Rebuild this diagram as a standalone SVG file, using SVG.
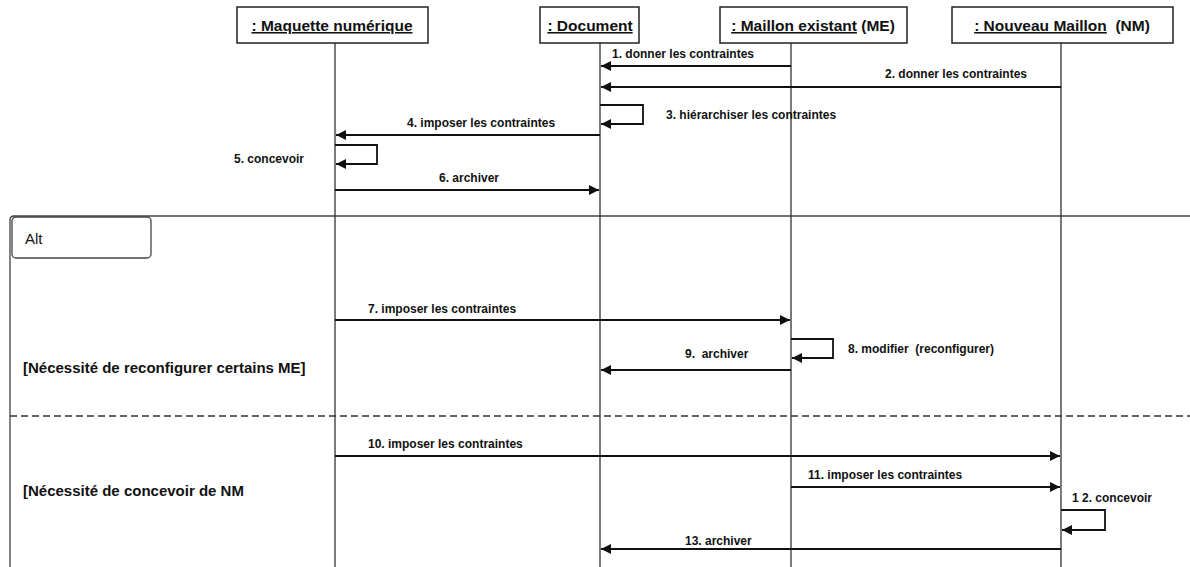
<svg xmlns="http://www.w3.org/2000/svg" width="1190" height="567" viewBox="0 0 1190 567">
<style>
.box{fill:#fff;stroke:#222;stroke-width:1.5}
.hdr{font-family:"Liberation Sans",Arial,sans-serif;font-weight:bold;font-size:15.5px;fill:#111}
.u{text-decoration:underline}
.life{stroke:#333;stroke-width:1.3;fill:none}
.msg{stroke:#111;stroke-width:1.8;fill:none}
.lbl{font-family:"Liberation Sans",Arial,sans-serif;font-weight:bold;font-size:12px;fill:#111}
.cond{font-family:"Liberation Sans",Arial,sans-serif;font-weight:bold;font-size:15px;fill:#111}
.frame{stroke:#444;stroke-width:1.3;fill:none}
</style>
<defs>
<marker id="ah" viewBox="0 0 10 10" refX="10" refY="5" markerWidth="10" markerHeight="10" markerUnits="userSpaceOnUse" orient="auto">
<path d="M0,0 L10,5 L0,10 Z" fill="#111"/>
</marker>
</defs>
<rect width="1190" height="567" fill="#fff"/>

<g id="frame">
<path class="frame" d="M10,567 V220 Q10,216 14,216 H1190"/>
<rect class="frame" x="12" y="217" width="139" height="41" rx="4"/>
<text x="25" y="244" font-family="Liberation Sans, Arial, sans-serif" font-size="15" fill="#111">Alt</text>
<line x1="10" y1="416" x2="1190" y2="416" stroke="#333" stroke-width="1.3" stroke-dasharray="7,4"/>
<text class="cond" x="23" y="373">[Nécessité de reconfigurer certains ME]</text>
<text class="cond" x="23" y="496">[Nécessité de concevoir de NM</text>
</g>

<g id="maquette">
<line class="life" x1="335" y1="43" x2="335" y2="567"/>
<rect class="box" x="237" y="7" width="191" height="36"/>
<text class="hdr" x="332" y="31" text-anchor="middle"><tspan class="u">: Maquette numérique</tspan></text>
</g>
<g id="document">
<line class="life" x1="600" y1="43" x2="600" y2="567"/>
<rect class="box" x="540" y="7" width="99" height="36"/>
<text class="hdr" x="590" y="31" text-anchor="middle"><tspan class="u">: Document</tspan></text>
</g>
<g id="me">
<line class="life" x1="791" y1="43" x2="791" y2="567"/>
<rect class="box" x="720" y="7" width="187" height="36"/>
<text class="hdr" x="813" y="31" text-anchor="middle"><tspan class="u">: Maillon existant</tspan> (ME)</text>
</g>
<g id="nm">
<line class="life" x1="1061" y1="43" x2="1061" y2="567"/>
<rect class="box" x="952" y="7" width="221" height="36"/>
<text class="hdr" x="1062" y="31" text-anchor="middle" xml:space="preserve"><tspan class="u">: Nouveau Maillon</tspan>  (NM)</text>
</g>

<g id="connectors">
<line class="msg" x1="791" y1="66" x2="601" y2="66" marker-end="url(#ah)"/>
<text class="lbl" x="612" y="58">1. donner les contraintes</text>
<line class="msg" x1="1061" y1="87" x2="601" y2="87" marker-end="url(#ah)"/>
<text class="lbl" x="885" y="78">2. donner les contraintes</text>
<path class="msg" d="M600,105 H643 V124 H601" marker-end="url(#ah)"/>
<text class="lbl" x="666" y="119">3. hiérarchiser les contraintes</text>
<line class="msg" x1="600" y1="135" x2="336" y2="135" marker-end="url(#ah)"/>
<text class="lbl" x="407" y="127">4. imposer les contraintes</text>
<path class="msg" d="M335,145 H377 V164 H336" marker-end="url(#ah)"/>
<text class="lbl" x="234" y="163">5. concevoir</text>
<line class="msg" x1="335" y1="190" x2="599" y2="190" marker-end="url(#ah)"/>
<text class="lbl" x="439" y="182">6. archiver</text>
<line class="msg" x1="335" y1="320" x2="790" y2="320" marker-end="url(#ah)"/>
<text class="lbl" x="368" y="313">7. imposer les contraintes</text>
<path class="msg" d="M791,339 H833 V358 H792" marker-end="url(#ah)"/>
<text class="lbl" x="848" y="353" xml:space="preserve">8. modifier  (reconfigurer)</text>
<line class="msg" x1="791" y1="370" x2="601" y2="370" marker-end="url(#ah)"/>
<text class="lbl" x="685" y="358" xml:space="preserve">9.  archiver</text>
<line class="msg" x1="335" y1="456" x2="1060" y2="456" marker-end="url(#ah)"/>
<text class="lbl" x="368" y="448">10. imposer les contraintes</text>
<line class="msg" x1="791" y1="487" x2="1060" y2="487" marker-end="url(#ah)"/>
<text class="lbl" x="808" y="479">11. imposer les contraintes</text>
<path class="msg" d="M1061,510 H1105 V530 H1062" marker-end="url(#ah)"/>
<text class="lbl" x="1072" y="502">1 2. concevoir</text>
<line class="msg" x1="1061" y1="549" x2="601" y2="549" marker-end="url(#ah)"/>
<text class="lbl" x="685" y="545">13. archiver</text>
</g>
</svg>
